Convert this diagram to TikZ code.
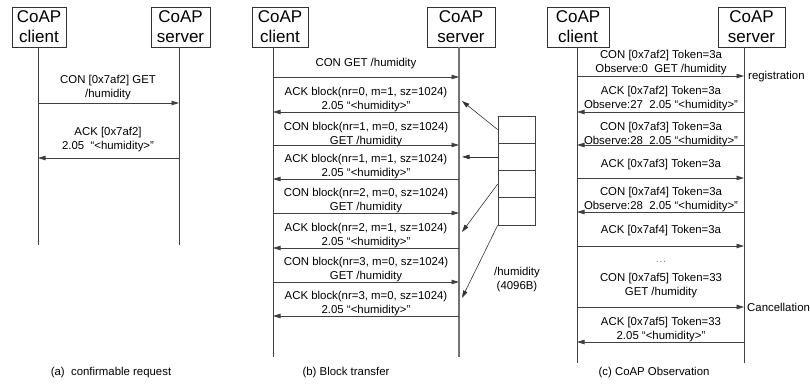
\documentclass[tikz,border=0pt]{standalone}
\usepackage{fontspec}
\setmainfont{Liberation Sans}
\usetikzlibrary{arrows.meta}
\begin{document}
\begin{tikzpicture}[x=1pt,y=-1pt,
  hdr/.style={draw=black!80, line width=0.7pt, minimum height=40pt, inner sep=0pt, align=center, font=\fontsize{17}{20}\selectfont},
  life/.style={draw=black!75, line width=0.8pt},
  msg/.style={draw=black!75, line width=0.8pt, -{Triangle[length=7.5pt,width=4.5pt]}},
  txt/.style={align=center, inner sep=0pt, font=\fontsize{11.4}{14}\selectfont},
  cell/.style={draw=black!75, line width=0.7pt, minimum width=37pt, minimum height=27.25pt, inner sep=0pt},
  feed/.style={draw=black!80, line width=0.6pt, -{Triangle[length=7.5pt,width=4.5pt]}}]
\useasboundingbox (0,0) rectangle (810,383);

% ---------- headers ----------
\node[hdr, minimum width=54pt] (ca) at (39,27) {CoAP\\client};
\node[hdr, minimum width=59pt] (sa) at (180.5,27) {CoAP\\server};
\node[hdr, minimum width=56pt] (cb) at (280,27) {CoAP\\client};
\node[hdr, minimum width=68pt] (sb) at (461,27) {CoAP\\server};
\node[hdr, minimum width=62pt] (cc) at (578,27) {CoAP\\client};
\node[hdr, minimum width=67pt] (sc) at (751.5,27) {CoAP\\server};

% ---------- lifelines ----------
\coordinate (La) at (38,245);
\coordinate (Ra) at (179,245);
\coordinate (Lb) at (273,357);
\coordinate (Rb) at (459,357);
\coordinate (Rbt) at (462,357);
\coordinate (Lc) at (577,363);
\coordinate (Rc) at (744,363);
\draw[life] (ca.south -| La) -- (La);
\draw[life] (sa.south -| Ra) -- (Ra);
\draw[life] (cb.south -| Lb) -- (Lb);
\draw[life, draw=black!55, line width=1.1pt] (sb.south -| Rb) -- (Rb);
\draw[life] (cc.south -| Lc) -- (Lc);
\draw[life] (sc.south -| Rc) -- (Rc);

% ---------- (a) confirmable request ----------
\node[txt] (ta1) at (108,88) {CON [0x7af2] GET\\/humidity};
\draw[msg] (La |- 0,103) -- (Ra |- 0,103);
\node[txt] (ta2) at (108,140) {ACK [0x7af2]\\2.05\ \ “<humidity>”};
\draw[msg] (Ra |- 0,158) -- (La |- 0,158);

% ---------- (b) block transfer ----------
\node[txt] (tb1) at (366,64) {CON GET /humidity};
\draw[msg] (Lb |- 0,77) -- (Rb |- 0,77);
\node[txt] (tb2) at (366,100) {ACK block(nr=0, m=1, sz=1024)\\2.05 “<humidity>”};
\draw[msg] (Rb |- 0,112) -- (Lb |- 0,112);
\node[txt] (tb3) at (366,135) {CON block(nr=1, m=0, sz=1024)\\GET /humidity};
\draw[msg] (Lb |- 0,145) -- (Rb |- 0,145);
\node[txt] (tb4) at (366,167) {ACK block(nr=1, m=1, sz=1024)\\2.05 “<humidity>”};
\draw[msg] (Rb |- 0,179) -- (Lb |- 0,179);
\node[txt] (tb5) at (366,201) {CON block(nr=2, m=0, sz=1024)\\GET /humidity};
\draw[msg] (Lb |- 0,213) -- (Rb |- 0,213);
\node[txt] (tb6) at (366,235.5) {ACK block(nr=2, m=1, sz=1024)\\2.05 “<humidity>”};
\draw[msg] (Rb |- 0,248) -- (Lb |- 0,248);
\node[txt] (tb7) at (366,269.5) {CON block(nr=3, m=0, sz=1024)\\GET /humidity};
\draw[msg] (Lb |- 0,282) -- (Rb |- 0,282);
\node[txt] (tb8) at (366,303.5) {ACK block(nr=3, m=0, sz=1024)\\2.05 “<humidity>”};
\draw[msg] (Rb |- 0,316) -- (Lb |- 0,316);

% resource blocks
\node[cell] (cell1) at (516.5,129.6) {};
\node[cell] (cell2) at (516.5,156.9) {};
\node[cell] (cell3) at (516.5,184.1) {};
\node[cell] (cell4) at (516.5,211.4) {};
\draw[feed] (cell1.west) -- (Rbt |- 0,101);
\draw[feed] (cell2.west) -- (cell2.west -| Rbt);
\draw[feed] (cell3.west) -- (Rbt |- 0,232);
\draw[feed] (cell4.south west) -- (Rbt |- 0,298);
\node[txt] (hl) at (517,280) {/humidity\\(4096B)};

% ---------- (c) observation ----------
\node[txt] (tc1) at (661,63) {CON [0x7af2] Token=3a\\Observe:0\ \ GET /humidity};
\draw[msg] (Lc |- 0,76) -- (Rc |- 0,76);
\node[txt, anchor=west] (reg) at (748,77) {registration};
\node[txt] (tc2) at (661,99) {ACK [0x7af2] Token=3a\\Observe:27\ \ 2.05 “<humidity>”};
\draw[msg] (Rc |- 0,112) -- (Lc |- 0,112);
\node[txt] (tc3) at (661,134.5) {CON [0x7af3] Token=3a\\Observe:28\ \ 2.05 “<humidity>”};
\draw[msg] (Rc |- 0,145) -- (Lc |- 0,145);
\node[txt] (tc4) at (661,165) {ACK [0x7af3] Token=3a};
\draw[msg] (Lc |- 0,178) -- (Rc |- 0,178);
\node[txt] (tc5) at (661,200) {CON [0x7af4] Token=3a\\Observe:28\ \ 2.05 “<humidity>”};
\draw[msg] (Rc |- 0,212) -- (Lc |- 0,212);
\node[txt] (tc6) at (661,231) {ACK [0x7af4] Token=3a};
\draw[msg] (Lc |- 0,246) -- (Rc |- 0,246);
\node[txt, text=black!45] (dots) at (661,262) {…};
\node[txt] (tc8) at (661,285.5) {CON [0x7af5] Token=33\\GET /humidity};
\draw[msg] (Lc |- 0,307) -- (Rc |- 0,307);
\node[txt, anchor=west] (canc) at (747,307) {Cancellation};
\node[txt] (tc9) at (661,329.5) {ACK [0x7af5] Token=33\\2.05 “<humidity>”};
\draw[msg] (Rc |- 0,342) -- (Lc |- 0,342);

% ---------- captions ----------
\node[txt] (capa) at (111,373) {(a)\ \ confirmable request};
\node[txt] (capb) at (346,373) {(b) Block transfer};
\node[txt] (capc) at (654,373) {(c) CoAP Observation};
\end{tikzpicture}
\end{document}
